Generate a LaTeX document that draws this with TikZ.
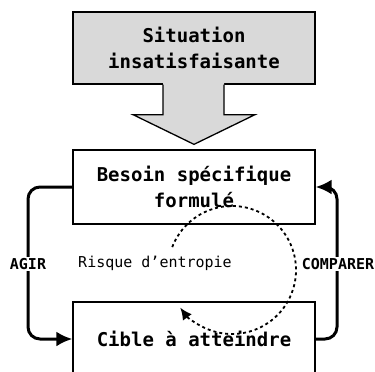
\documentclass[tikz,border=0pt]{standalone}
\usepackage{fontspec}
\usepackage{tikz}
\usetikzlibrary{arrows.meta}
\usetikzlibrary{calc}
\setmonofont{DejaVu Sans Mono}
\definecolor{gris}{rgb}{0.85,0.85,0.85}

\begin{document}
\begin{tikzpicture}[x=1pt,y=-1pt,
	box/.style={draw,line width=1.3pt,minimum width=242pt,minimum height=74pt,
	  align=center,font=\ttfamily\bfseries\fontsize{19}{26}\selectfont},
	lbl/.style={fill=white,inner sep=1pt,font=\ttfamily\bfseries\fontsize{15}{18}\selectfont},
	loop/.style={line width=3pt,rounded corners=12pt,-{Latex[length=16pt,width=15pt]}}]
  \path[use as bounding box,clip] (0,0) rectangle (375,372);

  \node[box,fill=gris,minimum height=72pt] (sit) at (194,48) {Situation\\insatisfaisante};
  \node[box] (besoin) at (194,187) {Besoin spécifique\\formulé};
  \node[box] (cible) at (194,339) {Cible à atteindre};

  % grosse fleche
  \fill[gris] ($(sit.south)+(-31,-2)$) -- ($(sit.south)+(-31,30)$) -- ($(sit.south)+(-61,30)$)
    -- ($(besoin.north)+(0,-5)$) -- ($(sit.south)+(61,30)$) -- ($(sit.south)+(30,30)$)
    -- ($(sit.south)+(30,-2)$) -- cycle;
  \draw[line width=1.3pt,line join=miter] ($(sit.south)+(-31,0)$) -- ($(sit.south)+(-31,30)$) -- ($(sit.south)+(-61,30)$)
    -- ($(besoin.north)+(0,-5)$) -- ($(sit.south)+(61,30)$) -- ($(sit.south)+(30,30)$)
    -- ($(sit.south)+(30,0)$);

  % boucle
  \draw[loop] (besoin.west) -| (28,264) |- (cible.west);
  \draw[loop] (cible.east) -| (337,264) |- (besoin.east);
  \node[lbl] (agir) at (28,264) {AGIR};
  \node[lbl] (comparer) at (338,264) {COMPARER};

  \node[font=\ttfamily\fontsize{15}{18}\selectfont] (risque) at (155,263) {Risque d’entropie};
  \draw[line width=1.8pt,dash pattern=on 3pt off 3pt,-{Latex[length=12pt,width=11pt]}]
    (232,270) ++(-159:64) arc[start angle=-159,end angle=144,radius=64];
\end{tikzpicture}
\end{document}
